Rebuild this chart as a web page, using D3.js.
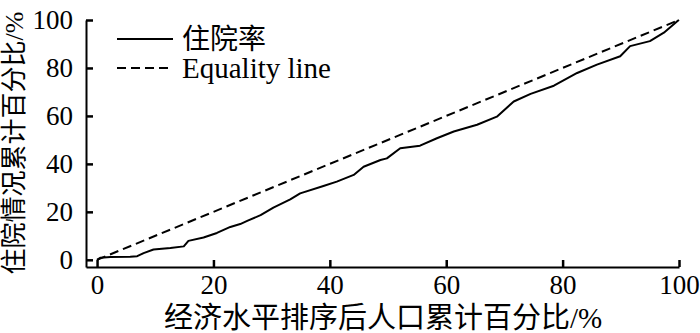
<!DOCTYPE html>
<html>
<head>
<meta charset="utf-8">
<script src="https://cdn.jsdelivr.net/npm/d3@7"></script>
<style>
  body { margin: 0; background: #fff; }
  svg { display: block; }
  text { font-family: "Liberation Serif", "Times New Roman", "Noto Sans CJK SC", serif; fill: #000; }
</style>
</head>
<body>
<div id="chart"></div>
<script>
// cumulative % of population ranked by economic level (x) vs cumulative % of hospitalisation (y)
const popPct = [0, 0.6, 2.3, 5.7, 6.9, 8.0, 9.7, 12.6, 14.9, 15.7, 18.3, 20.6, 22.9, 24.6, 25.8,
  28.1, 30.3, 33.2, 34.9, 38.9, 41.2, 44.1, 45.8, 48.7, 49.8, 52.1, 55.5, 58.4, 61.3, 65.3,
  68.7, 71.6, 74.5, 78.5, 82.5, 85.9, 89.9, 91.6, 95.0, 97.4, 99.7, 100];
const hospPct = [0, 0.9, 1.2, 1.3, 1.5, 2.8, 4.3, 4.9, 5.6, 7.9, 9.3, 11.2, 13.7, 14.9, 16.2,
  18.6, 21.8, 25.2, 27.7, 30.8, 32.6, 35.4, 38.8, 41.6, 42.3, 46.5, 47.6, 50.7, 53.5, 56.3,
  59.7, 66.0, 69.2, 72.6, 77.9, 81.4, 84.9, 89.1, 91.2, 94.7, 99.5, 100];
const equality = [0, 100];
const tickVals = [0, 20, 40, 60, 80, 100];
const legendLabels = ["住院率", "Equality line"];
const xTitle = "经济水平排序后人口累计百分比/%";
const yTitle = "住院情况累计百分比/%";

const width = 700, height = 333;

const svg = d3.select("#chart")
  .append("svg")
  .attr("width", width)
  .attr("height", height);

// axes start a little below zero, as in the figure
const xScale = d3.scaleLinear().domain([-1.9, 100]).range([86, 679]);
const yScale = d3.scaleLinear().domain([-3, 100]).range([267, 20]);

const xAxis = svg.append("g")
  .attr("transform", `translate(0, ${yScale(-3)})`)
  .call(d3.axisBottom(xScale).tickValues(tickVals).tickSizeInner(-7).tickSizeOuter(0).tickPadding(8));

const yAxis = svg.append("g")
  .attr("transform", `translate(${xScale(-1.9)}, 0)`)
  .call(d3.axisLeft(yScale).tickValues(tickVals).tickSizeInner(-7).tickSizeOuter(0).tickPadding(13));

[xAxis, yAxis].forEach(g => {
  g.select(".domain").attr("stroke", "#000").attr("stroke-width", 2);
  g.selectAll(".tick line").attr("stroke", "#000").attr("stroke-width", 2.5);
  g.selectAll(".tick text")
    .style("font-family", '"Liberation Serif", serif')
    .style("font-size", "27px")
    .attr("fill", "#000");
});

const line = d3.line()
  .x(d => xScale(d[0]))
  .y(d => yScale(d[1]));

// equality line
svg.append("path")
  .datum(equality.map(v => [v, v]))
  .attr("d", line)
  .attr("fill", "none")
  .attr("stroke", "#000")
  .attr("stroke-width", 2)
  .attr("stroke-dasharray", "9,5");

// concentration curve
svg.append("path")
  .datum(popPct.map((v, i) => [v, hospPct[i]]))
  .attr("d", line)
  .attr("fill", "none")
  .attr("stroke", "#000")
  .attr("stroke-width", 2)
  .attr("stroke-linejoin", "round");

// legend
const legend = svg.append("g").attr("transform", "translate(117, 39)");
legendLabels.forEach((label, i) => {
  const row = legend.append("g").attr("transform", `translate(0, ${i * 29})`);
  row.append("line")
    .attr("x1", 0).attr("x2", 56)
    .attr("stroke", "#000")
    .attr("stroke-width", 2)
    .attr("stroke-dasharray", i === 1 ? "9,5" : null);
  row.append("text")
    .attr("x", 65)
    .attr("dy", "0.35em")
    .style("font-size", i === 0 ? "28px" : "29px")
    .text(label);
});

// axis titles
svg.append("text")
  .attr("x", 383)
  .attr("y", 328)
  .attr("text-anchor", "middle")
  .style("font-size", "29px")
  .text(xTitle);

svg.append("text")
  .attr("transform", "rotate(-90)")
  .attr("x", -143)
  .attr("y", 23)
  .attr("text-anchor", "middle")
  .style("font-size", "26px")
  .text(yTitle);
</script>
</body>
</html>
